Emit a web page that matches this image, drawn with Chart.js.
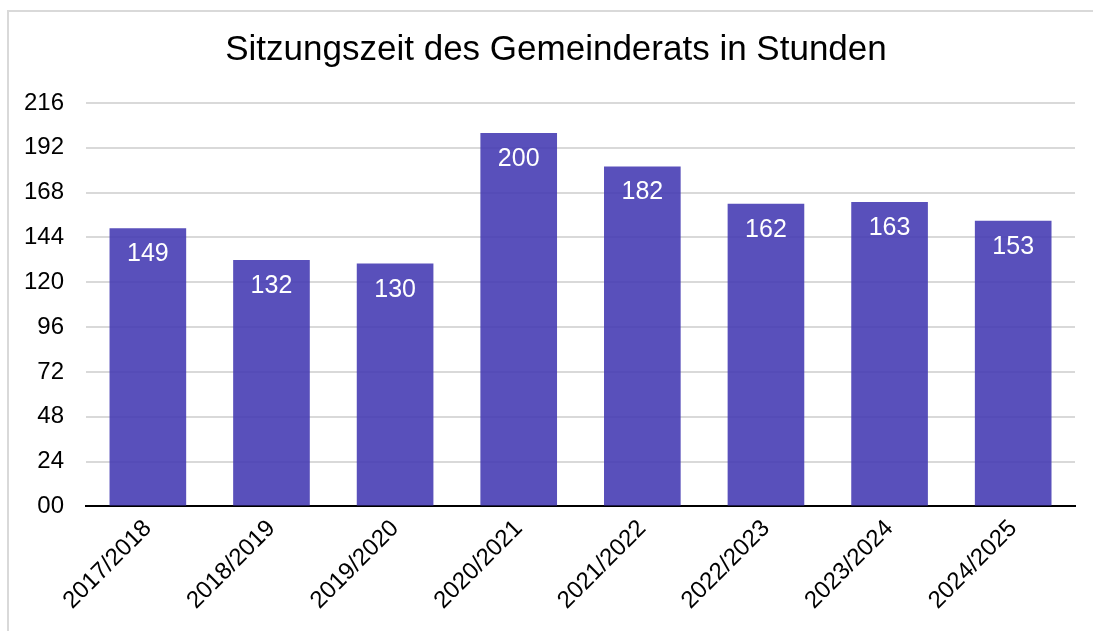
<!DOCTYPE html>
<html>
<head>
<meta charset="utf-8">
<script src="https://cdn.jsdelivr.net/npm/chart.js@4"></script>
<style>
    html, body { margin: 0; padding: 0; background: #fff; }
    #wrap { position: absolute; left: 0; top: 0; width: 1093px; height: 631px; }
</style>
</head>
<body>
<div id="wrap"><canvas id="sitzungChart"></canvas></div>
<script>
// Data
const seasons = ['2017/2018', '2018/2019', '2019/2020', '2020/2021', '2021/2022', '2022/2023', '2023/2024', '2024/2025'];
const hours = [149, 132, 130, 200, 182, 162, 163, 153];
const yMax = 216;
const yStep = 24;
const chartTitle = 'Sitzungszeit des Gemeinderats in Stunden';

const fontFamily = '"Liberation Sans", Arial, sans-serif';

// light gray frame and the title, centred on the frame
const framePlugin = {
    id: 'frame',
    beforeDraw(chart) {
        const ctx = chart.ctx;
        ctx.save();
        ctx.strokeStyle = '#d9d9d9';
        ctx.lineWidth = 2;
        ctx.strokeRect(8, 11, 1200, 800);
        ctx.fillStyle = '#000';
        ctx.font = '35px ' + fontFamily;
        ctx.textAlign = 'center';
        ctx.textBaseline = 'middle';
        ctx.fillText(chartTitle, 556, 50);
        ctx.restore();
    }
};

// value labels inside the bars
const barLabels = {
    id: 'barLabels',
    afterDatasetsDraw(chart) {
        const ctx = chart.ctx;
        const meta = chart.getDatasetMeta(0);
        ctx.save();
        ctx.fillStyle = '#ffffff';
        ctx.font = '25px ' + fontFamily;
        ctx.textAlign = 'center';
        ctx.textBaseline = 'middle';
        meta.data.forEach((bar, i) => {
            ctx.fillText(hours[i], bar.x, bar.y + 26);
        });
        ctx.restore();
    }
};

new Chart(document.getElementById('sitzungChart'), {
    type: 'bar',
    data: {
        labels: seasons,
        datasets: [{
            data: hours,
            backgroundColor: 'rgba(66, 56, 178, 0.88)',
            borderWidth: 0,
            barPercentage: 0.62,
            categoryPercentage: 1.0
        }]
    },
    options: {
        responsive: true,
        maintainAspectRatio: false,
        animation: false,
        layout: {
            padding: { left: 2, right: 18, top: 103, bottom: 8 }
        },
        plugins: {
            legend: { display: false },
            tooltip: { enabled: false },
            title: { display: false }
        },
        scales: {
            x: {
                grid: { display: false, drawTicks: false },
                border: { display: true, color: '#000', width: 2 },
                ticks: {
                    color: '#000',
                    font: { family: fontFamily, size: 24 },
                    maxRotation: 45,
                    minRotation: 45,
                    padding: 8
                },
                afterFit(scale) {
                    // don't let the rotated first label push the plot area
                    scale.paddingLeft = 0;
                    scale.paddingRight = 0;
                }
            },
            y: {
                min: 0,
                max: yMax,
                grid: { color: '#d9d9d9', lineWidth: 2, drawTicks: false },
                border: { display: false },
                ticks: {
                    stepSize: yStep,
                    color: '#000',
                    padding: 22,
                    font: { family: fontFamily, size: 24 },
                    callback: v => String(v).padStart(2, '0')
                },
                afterFit(scale) {
                    scale.paddingTop = 0;
                }
            }
        }
    },
    plugins: [framePlugin, barLabels]
});
</script>
</body>
</html>
